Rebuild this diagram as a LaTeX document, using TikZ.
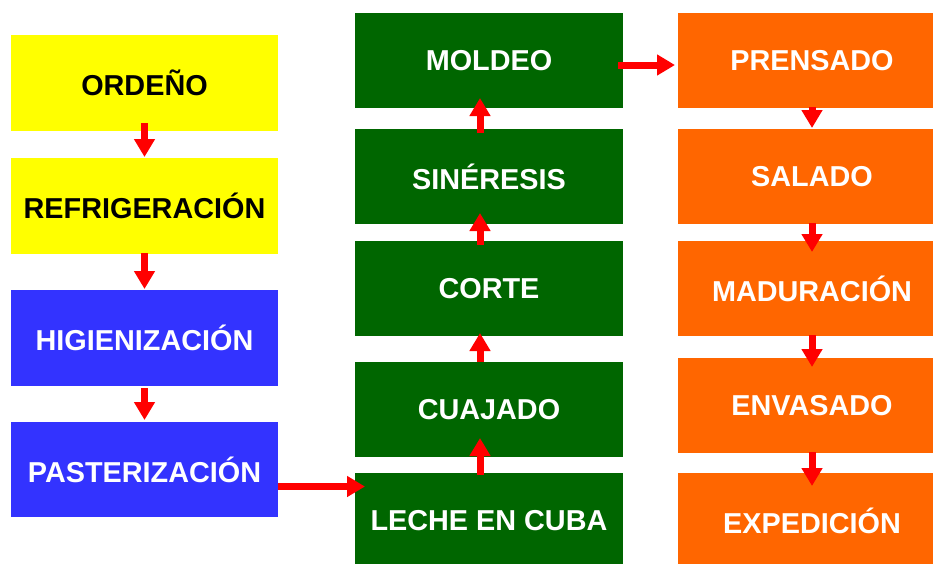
\documentclass[tikz,border=0pt]{standalone}
\usepackage{fontspec}
\setmainfont{Liberation Sans}
\usetikzlibrary{calc,arrows.meta}
\definecolor{cyel}{HTML}{FFFF00}
\definecolor{cblu}{HTML}{3333FF}
\definecolor{cgrn}{HTML}{006600}
\definecolor{corg}{HTML}{FF6600}
\definecolor{cred}{HTML}{FF0000}
\tikzset{
  box/.style={inner sep=0pt, outer sep=0pt, font=\fontsize{28.8}{34}\selectfont\bfseries},
  lbox/.style={box, minimum width=267pt, minimum height=96pt},
  mbox/.style={box, minimum width=268pt, minimum height=95pt, fill=cgrn, text=white},
  rbox/.style={box, minimum width=268pt, minimum height=95pt, fill=corg, text=white},
  flow/.style={draw=cred, line width=7pt, -{Triangle[width=20pt,length=18pt]}}
}
\begin{document}
\begin{tikzpicture}[x=1pt,y=-1pt]
\useasboundingbox (0,0) rectangle (933,563);
\clip (0,0) rectangle (933,563);
% left column
\node[lbox, fill=cyel, text=black] (ord) at (144.5,83) {ORDEÑO};
\node[lbox, fill=cyel, text=black] (ref) at (144.5,206) {REFRIGERACIÓN};
\node[lbox, fill=cblu, text=white] (hig) at (144.5,338) {HIGIENIZACIÓN};
\node[lbox, fill=cblu, text=white, minimum height=95pt] (pas) at (144.5,469.5) {PASTERIZACIÓN};
% middle column
\node[mbox] (mol) at (489,60.5) {MOLDEO};
\node[mbox] (sin) at (489,176.5) {SINÉRESIS};
\node[mbox] (cor) at (489,288.5) {CORTE};
\node[mbox] (cua) at (489,409.5) {CUAJADO};
\node[mbox, minimum height=96pt] (lec) at (489,521) {LECHE EN CUBA};
% right column
\node[rbox] (pre) at (812,60.5) {PRENSADO};
\node[rbox] (sal) at (812,176.5) {SALADO};
\node[rbox] (mad) at (812,288.5) {MADURACIÓN};
\node[rbox] (env) at (812,405.5) {ENVASADO};
\node[rbox, minimum height=96pt] (exp) at (812,521) {EXPEDICIÓN};
% left arrows
\draw[flow] ($(ord.south)+(0,-8)$) -- ($(ref.north)+(0,-1)$);
\draw[flow] ($(ref.south)+(0,-1)$) -- ($(hig.north)+(0,-1)$);
\draw[flow] ($(hig.south)+(0,2)$) -- ($(pas.north)+(0,-2)$);
% middle arrows
\draw[flow] ($(lec.north)+(-9,2)$) -- ($(cua.south)+(-9,-19)$);
\draw[flow] ($(cua.north)+(-9,0)$) -- ($(cor.south)+(-9,-3)$);
\draw[flow] ($(cor.north)+(-9,4)$) -- ($(sin.south)+(-9,-11)$);
\draw[flow] ($(sin.north)+(-9,4)$) -- ($(mol.south)+(-9,-10)$);
% right arrows
\draw[flow] ($(pre.south)+(0,-1)$) -- ($(sal.north)+(0,-1)$);
\draw[flow] ($(sal.south)+(0,-1)$) -- ($(mad.north)+(0,11)$);
\draw[flow] ($(mad.south)+(0,-1)$) -- ($(env.north)+(0,9)$);
\draw[flow] ($(env.south)+(0,-1)$) -- ($(exp.north)+(0,13)$);
% horizontal arrows
\draw[flow] ($(pas.east)+(0,17)$) -- ($(pas.east -| lec.west)+(10,17)$);
\draw[flow] ($(mol.east)+(-5,4.5)$) -- ($(mol.east -| pre.west)+(-3,4.5)$);
\end{tikzpicture}
\end{document}
